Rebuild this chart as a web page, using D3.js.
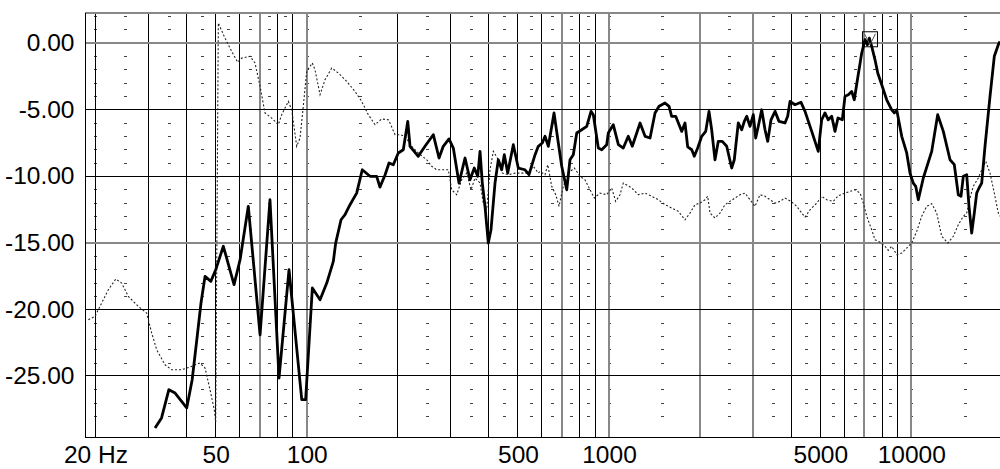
<!DOCTYPE html>
<html>
<head>
<meta charset="utf-8">
<script src="https://cdn.jsdelivr.net/npm/d3@7"></script>
<style>
  html, body { margin: 0; padding: 0; background: #fff; }
  svg { display: block; }
  text { font-family: "Liberation Sans", Arial, sans-serif; }
</style>
</head>
<body>
<svg id="chart" width="1000" height="469"></svg>
<script>
// ---------- data ----------
const yTickValues = [0, -5, -10, -15, -20, -25];
const yTickLabels = ["0.00", "-5.00", "-10.00", "-15.00", "-20.00", "-25.00"];
const xTickValues = [20, 50, 100, 500, 1000, 5000, 10000];
const xTickLabels = ["20 Hz", "50", "100", "500", "1000", "5000", "10000"];
const gridHz = [20, 30, 40, 50, 60, 70, 80, 90, 100, 200, 300, 400, 500, 600, 700, 800, 900,
  1000, 2000, 3000, 4000, 5000, 6000, 7000, 8000, 9000, 10000, 20000];
const gridDb = [0, -5, -10, -15, -20, -25];

// solid (thick) response: [Hz, dB]
const solidResponse = [
  [31.5,-28.90],[33.1,-28.15],[35.0,-26.03],[36.7,-26.28],[40.1,-27.40],[41.8,-25.28],[43.3,-22.28],
  [44.7,-19.53],[46.1,-17.53],[48.2,-17.90],[50.0,-17.03],[53.0,-15.27],[57.5,-18.15],[60.2,-16.28],
  [64.1,-12.27],[70.1,-21.91],[75.6,-11.78],[81.0,-25.15],[87.4,-17.03],[96.3,-26.78],[99.2,-26.78],
  [104.4,-18.40],[110.7,-19.28],[116.5,-18.03],[122.5,-16.40],[124.7,-15.03],[129.9,-13.28],[133.9,-12.90],
  [139.1,-12.15],[146.3,-11.28],[152.7,-9.53],[162.0,-10.02],[170.4,-10.02],[174.7,-10.83],[181.6,-9.92],
  [187.2,-9.02],[193.4,-9.15],[200.9,-8.27],[208.7,-8.03],[215.9,-5.90],[219.7,-7.77],[233.9,-8.52],
  [246.2,-7.77],[262.3,-6.90],[274.0,-8.65],[283.0,-7.77],[295.6,-7.22],[305.5,-7.90],[319.0,-10.53],
  [334.0,-8.65],[346.9,-10.28],[358.4,-9.40],[367.9,-10.02],[374.4,-8.15],[381.0,-10.53],[388.9,-12.27],
  [398.8,-15.03],[407.1,-14.03],[419.7,-10.53],[430.4,-8.78],[441.7,-9.53],[450.5,-8.40],[462.3,-9.78],
  [482.5,-7.65],[501.2,-9.40],[527.4,-9.53],[543.7,-9.90],[569.1,-8.42],[583.6,-7.77],[601.7,-7.52],
  [614.2,-7.02],[630,-7.77],[657.9,-5.27],[679.8,-7.52],[697.6,-9.27],[724.8,-11.03],[743.0,-8.78],
  [762.0,-8.40],[782.1,-6.77],[812.4,-6.53],[843.9,-6.27],[872.1,-5.15],[887.5,-5.40],[921.8,-7.90],
  [946.1,-8.03],[982.7,-7.65],[994.7,-6.77],[1033,-6.15],[1074,-7.65],[1115,-7.90],[1158,-7.02],
  [1194,-7.77],[1267,-6.02],[1316,-7.02],[1367,-7.15],[1420,-5.27],[1464,-4.77],[1532,-4.52],
  [1580,-4.77],[1612,-5.52],[1662,-5.52],[1740,-6.65],[1784,-6.02],[1821,-7.82],[1878,-8.03],
  [1915,-8.52],[1965,-7.90],[2026,-7.02],[2089,-6.65],[2142,-5.15],[2186,-6.53],[2242,-8.78],
  [2299,-7.40],[2370,-7.40],[2451,-7.77],[2546,-9.40],[2597,-8.78],[2677,-6.02],[2748,-6.53],
  [2803,-5.90],[2855,-5.52],[2927,-6.27],[3002,-5.40],[3057,-7.15],[3118,-6.27],[3200,-5.03],
  [3282,-6.53],[3350,-7.40],[3435,-5.78],[3542,-5.15],[3651,-5.90],[3821,-6.02],[3900,-5.52],
  [3970,-4.40],[4124,-4.65],[4317,-4.47],[4451,-5.15],[4684,-6.65],[4923,-8.15],[5052,-5.78],
  [5181,-5.27],[5313,-5.78],[5453,-5.52],[5592,-6.65],[5721,-5.65],[5913,-5.78],[6035,-4.02],
  [6189,-3.90],[6351,-3.65],[6478,-4.28],[6648,-2.65],[6855,-0.77],[7030,0.23],[7154,-0.15],
  [7263,0.35],[7396,-0.27],[7586,-1.28],[7745,-2.27],[7983,-3.15],[8292,-4.28],[8614,-5.03],
  [8786,-5.27],[8948,-5.03],[9297,-7.02],[9656,-8.27],[9901,-9.78],[10153,-10.53],[10342,-10.77],
  [10549,-11.78],[10958,-10.15],[11682,-8.15],[12226,-5.40],[12762,-6.65],[13431,-8.78],[13877,-9.15],
  [14305,-11.40],[14601,-11.52],[14862,-10.02],[15251,-9.90],[15520,-12.27],[15841,-14.28],[16158,-12.78],
  [16458,-11.28],[16749,-10.90],[17096,-10.53],[17530,-7.77],[18213,-4.02],[18819,-1.02],[19401,-0.15],
  [19653,0.10]
];

// dotted (thin) trace: [Hz, dB]
const dottedTrace = [
  [18.95,-20.78],[19.94,-20.53],[20.71,-19.78],[22.07,-18.53],[23.35,-17.73],[24.43,-18.03],[25.70,-19.03],
  [27.73,-19.78],[29.56,-20.28],[30.71,-21.78],[31.90,-23.03],[33.99,-24.16],[35.76,-24.53],[38.59,-24.53],
  [41.65,-24.28],[44.36,-24.03],[46.1,-24.40],[47.88,-26.03],[49.47,-27.53],[50.0,-28.45],[51.01,1.48],
  [53.65,0.35],[56.48,-0.65],[59.11,-1.47],[60.95,-1.15],[64.94,-1.02],[67.45,-1.52],[70.1,-3.27],
  [72.79,-5.27],[76.59,-5.65],[80.55,-6.15],[82.65,-5.40],[86.93,-4.40],[89.21,-5.03],[92.67,-7.77],
  [95.03,-7.15],[97.44,-4.77],[100,-2.15],[104.35,-1.52],[106.52,-2.03],[110.7,-3.90],[114.96,-2.78],
  [120.98,-1.90],[127.24,-2.27],[135.6,-2.90],[144.5,-3.65],[152.0,-4.40],[159.9,-5.40],[168.3,-6.15],
  [177.0,-5.72],[186.2,-5.78],[188.6,-6.02],[196.0,-6.90],[203.5,-6.90],[211.4,-7.02],[222.5,-7.77],
  [233.9,-8.27],[249.5,-8.78],[259.1,-9.27],[269.2,-9.53],[279.7,-9.53],[294.1,-9.53],[301.8,-11.03],
  [313.5,-11.40],[325.6,-10.28],[338.3,-9.78],[349.6,-11.03],[360.4,-10.15],[374.4,-10.53],[383.9,-12.03],
  [393.9,-12.53],[404.0,-9.53],[414.4,-8.15],[430.4,-8.78],[443.7,-9.78],[464.5,-9.90],[488.9,-9.78],
  [514.4,-9.78],[540.9,-9.78],[561.8,-9.27],[583.6,-9.78],[591.2,-9.65],[614.2,-9.90],[627.1,-9.15],
  [646.5,-10.77],[666.5,-11.40],[683.4,-12.27],[706.2,-10.77],[733.6,-9.78],[767.8,-9.40],[802.0,-10.02],
  [833.0,-10.28],[865.4,-11.03],[894.2,-11.65],[933.7,-11.28],[982.7,-11.40],[1020.7,-10.90],[1052.4,-11.90],
  [1087.4,-11.40],[1115.1,-10.53],[1188.9,-10.90],[1250.2,-11.40],[1315.6,-11.28],[1384.5,-11.52],
  [1455.9,-11.78],[1532.2,-12.15],[1612.2,-12.40],[1695.6,-12.65],[1783.9,-13.28],[1853.5,-12.78],
  [1925.3,-12.15],[2000,-12.03],[2077.9,-11.78],[2121,-11.52],[2158.5,-12.78],[2242,-13.15],[2329,-12.78],
  [2419,-12.15],[2513,-11.90],[2611,-11.65],[2713,-11.40],[2818,-11.28],[2927,-11.78],[3041,-12.27],
  [3159,-11.40],[3282,-11.52],[3409,-11.78],[3542,-12.03],[3679,-11.90],[3821,-11.65],[4000,-11.90],
  [4177,-12.27],[4340,-12.78],[4451,-13.08],[4624,-12.53],[4866,-12.03],[5052,-11.52],[5250,-11.78],
  [5521,-11.90],[5735,-11.48],[6035,-11.28],[6514,-11.03],[6767,-11.28],[6939,-12.03],[7121,-13.02],
  [7396,-14.03],[7586,-14.78],[7881,-14.97],[8185,-15.27],[8393,-15.57],[8614,-15.27],[8948,-15.90],
  [9297,-15.78],[9656,-15.40],[10030,-15.03],[10421,-14.15],[10825,-13.02],[11246,-12.27],[11682,-12.08],
  [12136,-12.78],[12607,-14.52],[13197,-15.03],[13772,-14.52],[14305,-13.65],[14862,-13.02],[15251,-12.78],
  [15638,-11.65],[16037,-10.77],[16659,-10.15],[17096,-9.53],[17624,-8.90],[18213,-9.78],[18819,-11.28],
  [19401,-12.78],[19653,-13.02]
];

const cursorMarker = [7300, 0.26];

// ---------- scales ----------
const xDomain = [20, 20000];
const yDomain = [-29.6, 2.2];
const x = d3.scaleLog().domain(xDomain).range([95.4, 1002.3]);
const y = d3.scaleLinear().domain(yDomain).range([437.3, 13.4]);
const plotLeft = 85, plotRight = x(20000), plotTop = y(yDomain[1]), plotBottom = y(yDomain[0]);

const svg = d3.select("#chart");

svg.append("defs").append("clipPath").attr("id", "plotClip")
  .append("rect").attr("x", plotLeft).attr("y", plotTop)
  .attr("width", plotRight - plotLeft).attr("height", plotBottom - plotTop);

// ---------- grid ----------
const grayV = new Set([70, 100, 700, 1000, 2000, 3000, 7000, 10000]);
const grayH = new Set([0, -15]);
const grid = svg.append("g").attr("shape-rendering", "crispEdges");

// minor dash columns (x.5 of each decade plus decades)
const minorHz = [20];
[10, 100, 1000, 10000].forEach(dec => {
  [1.5, 2.5, 3.5, 4.5, 5.5, 6.5, 7.5, 8.5, 10].forEach(m => {
    const f = dec * m;
    if (f > 20 && f <= 20000) minorHz.push(f);
  });
});
const minorRows = d3.range(2, -29, -1).filter(v => v % 5 !== 0);
minorHz.forEach(f => {
  grid.selectAll(null).data(minorRows).enter().append("line")
    .attr("x1", Math.round(x(f)) - 1.5).attr("x2", Math.round(x(f)) + 1.5)
    .attr("y1", d => Math.round(y(d)) + 0.5).attr("y2", d => Math.round(y(d)) + 0.5)
    .attr("stroke", "#444").attr("stroke-width", 1);
});

grid.selectAll("line.gv").data(gridHz).enter().append("line").attr("class", "gv")
  .attr("x1", d => x(d)).attr("x2", d => x(d))
  .attr("y1", plotTop).attr("y2", plotBottom)
  .attr("stroke", d => grayV.has(d) ? "#888" : "#000")
  .attr("stroke-width", d => grayV.has(d) ? 2 : 1);

grid.selectAll("line.gh").data(gridDb).enter().append("line").attr("class", "gh")
  .attr("x1", plotLeft).attr("x2", plotRight)
  .attr("y1", d => y(d)).attr("y2", d => y(d))
  .attr("stroke", d => grayH.has(d) ? "#888" : "#000")
  .attr("stroke-width", d => grayH.has(d) ? 2 : 1);

// frame
grid.append("line").attr("x1", plotLeft).attr("x2", plotRight).attr("y1", plotTop).attr("y2", plotTop)
  .attr("stroke", "#888").attr("stroke-width", 2);
grid.append("line").attr("x1", plotLeft).attr("x2", plotRight).attr("y1", plotBottom).attr("y2", plotBottom)
  .attr("stroke", "#000").attr("stroke-width", 1);
grid.append("line").attr("x1", plotLeft).attr("x2", plotLeft).attr("y1", plotTop).attr("y2", plotBottom)
  .attr("stroke", "#000").attr("stroke-width", 1);

// ---------- curves ----------
const line = d3.line().x(d => x(d[0])).y(d => y(d[1]));
const curves = svg.append("g").attr("clip-path", "url(#plotClip)");

curves.append("path").datum(dottedTrace)
  .attr("d", line).attr("fill", "none")
  .attr("stroke", "#222").attr("stroke-width", 1.1)
  .attr("stroke-dasharray", "2,2");

curves.append("path").datum(solidResponse)
  .attr("d", line).attr("fill", "none")
  .attr("stroke", "#000").attr("stroke-width", 2.8)
  .attr("stroke-linejoin", "round");

// cursor marker
const mx = x(cursorMarker[0]), my = y(cursorMarker[1]), ms = 7.5;
const mk = svg.append("g");
mk.append("rect").attr("x", mx - ms).attr("y", my - ms).attr("width", 2 * ms).attr("height", 2 * ms)
  .attr("fill", "none").attr("stroke", "#000").attr("stroke-width", 1);
mk.append("path").attr("d", `M${mx - ms + 2},${my - ms + 2}L${mx},${my + ms - 2}L${mx + ms - 2},${my - ms + 2}`)
  .attr("fill", "none").attr("stroke", "#555").attr("stroke-width", 1);

// ---------- axes ----------
const yAxis = d3.axisLeft(y).tickValues(yTickValues)
  .tickFormat((d, i) => yTickLabels[i]).tickSize(0).tickPadding(10.5);
const gy = svg.append("g").attr("transform", `translate(${plotLeft},0)`).call(yAxis);
gy.select(".domain").remove();
gy.selectAll("text").attr("font-size", "24.5px").attr("fill", "#000")
  .attr("font-family", "'Liberation Sans', Arial, sans-serif");

const xAxis = d3.axisBottom(x).tickValues(xTickValues)
  .tickFormat((d, i) => xTickLabels[i]).tickSize(0).tickPadding(8.3);
const gx = svg.append("g").attr("transform", `translate(0,${plotBottom})`).call(xAxis);
gx.select(".domain").remove();
gx.selectAll("text").attr("font-size", "24.5px").attr("fill", "#000")
  .attr("font-family", "'Liberation Sans', Arial, sans-serif");
</script>
</body>
</html>
